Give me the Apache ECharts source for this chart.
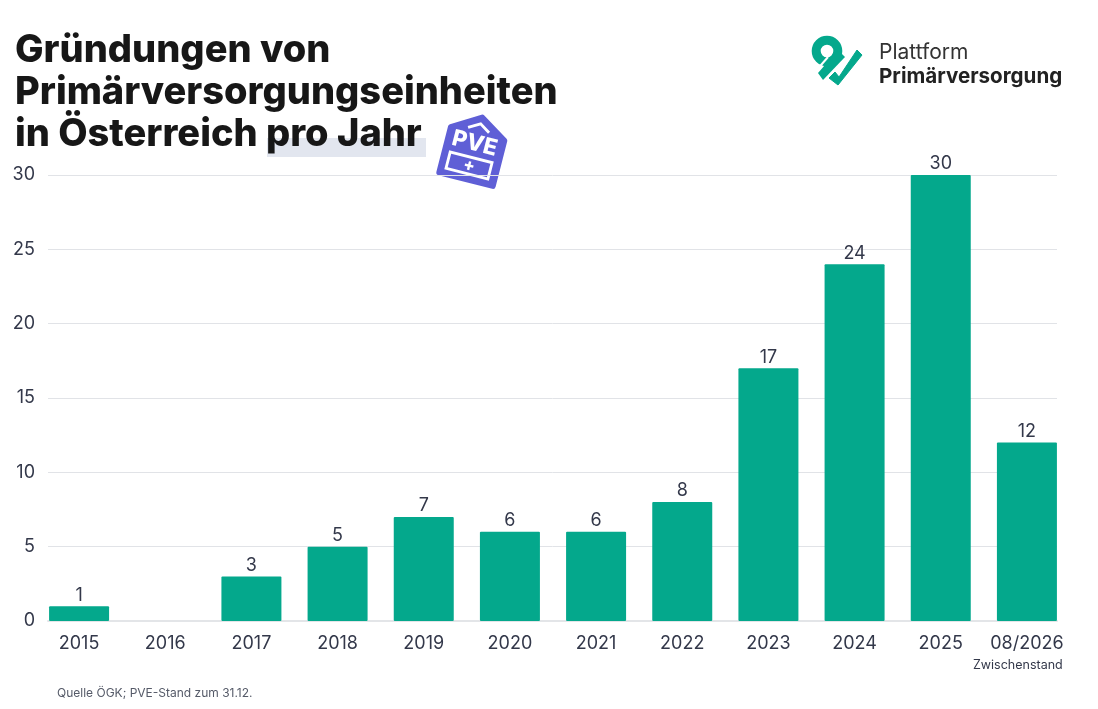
<!DOCTYPE html>
<html><head><meta charset="utf-8">
<style>html,body{margin:0;padding:0;background:#fff}#c{width:1098px;height:709px}</style>
<script src="https://cdn.jsdelivr.net/npm/echarts@6/dist/echarts.min.js"></script>
</head><body><div id="c"></div>
<script>
const categories = ['2015','2016','2017','2018','2019','2020','2021','2022','2023','2024','2025','08/2026'];
const values = [1,0,3,5,7,6,6,8,17,24,30,12];
const yMax = 30, yStep = 5;
const titleLines = ['Gründungen von','Primärversorgungseinheiten','in Österreich pro Jahr'];
const GREEN='#04a88c', INK='#33384a', PURPLE='#5f5fd6';
const chart = echarts.init(document.getElementById('c'),null,{renderer:'canvas'});
chart.setOption({
  animation:false,
  backgroundColor:'#fff',
  textStyle:{fontFamily:'Inter'},
  grid:[
    {left:36,right:28,top:175,bottom:88},
    {left:48,right:41,top:175,bottom:88}
  ],
  xAxis:[
    {gridIndex:0,type:'category',data:categories,
      axisLine:{show:false},axisTick:{show:false},
      axisLabel:{interval:0,color:INK,fontFamily:'Inter',fontSize:18,margin:14,hideOverlap:false}},
    {gridIndex:1,type:'category',data:categories,
      axisLine:{show:true,lineStyle:{color:'#e3e5e8',width:2}},axisTick:{show:false},axisLabel:{show:false}}
  ],
  yAxis:[
    {gridIndex:0,type:'value',min:0,max:yMax,interval:yStep,show:false,splitLine:{show:false}},
    {gridIndex:1,type:'value',min:0,max:yMax,interval:yStep,
      axisLine:{show:false},axisTick:{show:false},
      axisLabel:{color:INK,fontFamily:'Inter',fontSize:18,margin:13,align:'right',verticalAlign:'middle',verticalAlignMinLabel:'middle',verticalAlignMaxLabel:'middle'},
      splitLine:{show:true,lineStyle:{color:'#e1e3e7',width:1}}}
  ],
  series:[
    {type:'bar',xAxisIndex:1,yAxisIndex:1,data:[],silent:true},
    {type:'bar',xAxisIndex:0,yAxisIndex:0,data:values.map(v=>v===0?{value:0,label:{show:false}}:v),barWidth:60,z:5,
      itemStyle:{color:GREEN,borderRadius:1},
      label:{show:true,position:'top',distance:2,color:INK,fontFamily:'Inter',fontSize:18}}
  ],
  graphic:[
    {type:'rect',z:1,shape:{x:267,y:138,width:159,height:19},style:{fill:'#e2e6ef'}},
    ...titleLines.map((t,i)=>({type:'text',z:2,x:15,y:32+i*42,style:{text:t,fill:'#171717',fontFamily:'Inter',fontWeight:800,fontSize:38}})),
    {type:'text',x:973,y:659,style:{text:'Zwischenstand',fill:INK,fontFamily:'Inter',fontSize:12.5}},
    {type:'text',x:57,y:687,style:{text:'Quelle ÖGK; PVE-Stand zum 31.12.',fill:'#555a68',fontFamily:'Inter',fontSize:12}},
    {type:'text',x:879,y:42,style:{text:'Plattform',fill:'#333',fontFamily:'Inter',fontSize:21}},
    {type:'text',x:879,y:66,style:{text:'Primärversorgung',fill:'#222',fontFamily:'Inter',fontWeight:700,fontSize:20.6}},
    // logo
    {type:'circle',shape:{cx:827,cy:51,r:10.8},style:{fill:'none',stroke:GREEN,lineWidth:9}},
    {type:'line',shape:{x1:815,y1:72,x2:828,y2:57},style:{stroke:'#fff',lineWidth:2}},
    {type:'polygon',shape:{points:[[818,73],[823,80],[845,57],[838,50]]},style:{fill:GREEN}},
    {type:'polygon',shape:{points:[[829,78],[835,72],[839,77],[857,50],[862,55],[838,85]]},style:{fill:GREEN,stroke:GREEN,lineWidth:1,lineJoin:'round'}},
    // PVE badge
    {type:'group',x:473,y:150,rotation:-0.25,scaleX:0.94,scaleY:0.94,children:[
      {type:'polygon',shape:{points:[[-29,-18],[1,-36],[30,-18],[30,32],[-29,32]]},style:{fill:PURPLE,stroke:PURPLE,lineWidth:6,lineJoin:'round'}},
      {type:'polyline',shape:{points:[[-11,-22],[1,-29],[12,-22]]},style:{fill:'none',stroke:'#fff',lineWidth:3}},
      {type:'text',x:0,y:-7,style:{text:'PVE',fill:'#fff',fontFamily:'Inter',fontWeight:800,fontSize:24,align:'center',verticalAlign:'middle'}},
      {type:'rect',shape:{x:-23,y:8,width:46,height:18},style:{fill:'none',stroke:'#fff',lineWidth:3}},
      {type:'text',x:0,y:17,style:{text:'+',fill:'#fff',fontFamily:'Inter',fontWeight:800,fontSize:18,align:'center',verticalAlign:'middle'}}
    ]}
  ]
});
</script></body></html>
